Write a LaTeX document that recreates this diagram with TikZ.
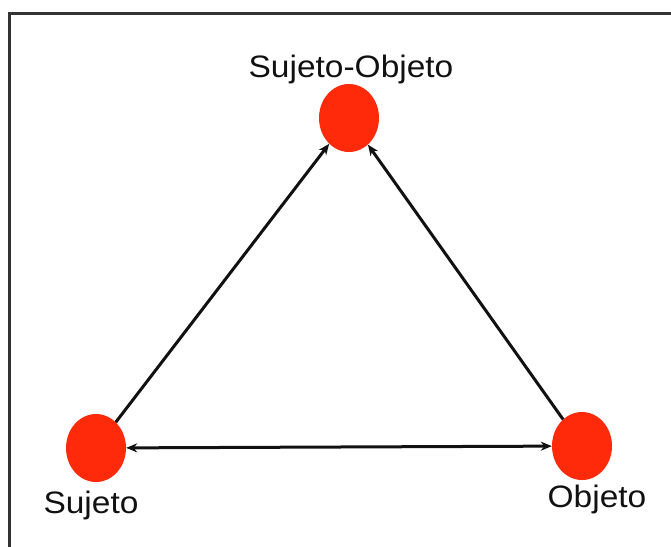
\documentclass[tikz,border=0pt]{standalone}
\usepackage{fontspec}
\setmainfont{Liberation Sans}
\usetikzlibrary{positioning,arrows.meta,shapes.geometric}
\definecolor{ink}    {HTML}{111111}
\definecolor{frame}  {HTML}{333333}
\definecolor{dotred} {HTML}{FF2A0A}
\newcommand{\wide}[1]{\scalebox{1.08}[1]{#1}}
\tikzset{
  >=stealth,
  % --- nodes
  pole/.style = {ellipse, fill=dotred, draw=none, minimum width=60pt,
                 minimum height=68pt, inner sep=0pt},
  lbl/.style  = {font=\fontsize{31}{36}\selectfont, text=ink, inner sep=0pt,
                 anchor=base},
  % --- edges
  e/.style    = {-{Stealth[length=11pt,width=9pt]}, line width=3pt, draw=ink},
  ee/.style   = {e, {Stealth[length=11pt,width=9pt]}-{Stealth[length=11pt,width=9pt]}},
}
\begin{document}
\begin{tikzpicture}[x=1pt,y=-1pt]
  \useasboundingbox (0,0) rectangle (671,546);
  \draw[frame, line width=3pt] (9,13) rectangle (690,560);
  \node[pole] (sujobj) at (349,118) {};
  \node[pole] (suj)    at (96,448) {};
  \node[pole] (obj)    at (582,446) {};
  \node[lbl] (lsujobj) at (351,77)  {\wide{Sujeto-Objeto}};
  \node[lbl] (lsuj)    at (91,513)  {\wide{Sujeto}};
  \node[lbl] (lobj)    at (597,507) {\wide{Objeto}};
  \draw[e] (suj) -- (sujobj);
  \draw[e] (obj) -- (sujobj);
  \draw[ee] (suj) -- (obj);
\end{tikzpicture}
\end{document}
